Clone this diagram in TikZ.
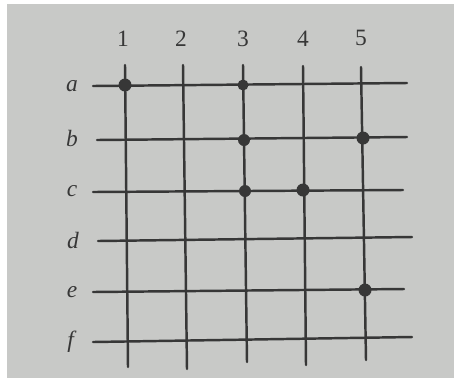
\documentclass[tikz,border=0pt]{standalone}
\usepackage{fontspec}
\setmainfont{Liberation Serif}
\usepackage{tikz}

\definecolor{paper}{RGB}{200,201,199}
\definecolor{ink}{RGB}{55,55,55}

\begin{document}
\begin{tikzpicture}[
				x=0.03cm,
				y=-0.03cm,
				line cap=round,
				line join=round,
				every node/.style={font=\fontsize{20}{23}\selectfont, text=ink},
				grid/.style={draw=ink, line width=2.1pt},
				hit/.style={fill=ink}
				]
				% Paper
				\useasboundingbox (0,0) rectangle (454,379);
				\fill[white] (0,0) rectangle (454,379);
				\fill[paper] (7,4) rectangle (454,378);
				
				% Vertical lines
				\draw[grid] (125,65) -- (128,367);
				\draw[grid] (183,65) -- (187,369);
				\draw[grid] (243,65) -- (247,362);
				\draw[grid] (303,66) -- (306,365);
				\draw[grid] (361,67) -- (366,360);
				
				% Horizontal lines
				\draw[grid] (93,86) -- (407,83);
				\draw[grid] (97,140) -- (407,137);
				\draw[grid] (93,192) -- (403,190);
				\draw[grid] (98,241) -- (412,237);
				\draw[grid] (93,292) -- (404,289);
				\draw[grid] (93,342) -- (412,337);
				
				% Column labels
				\node (n1) at (123,39) {1};
				\node (n2) at (181,39) {2};
				\node (n3) at (243,39) {3};
				\node (n4) at (303,39) {4};
				\node (n5) at (361,38) {5};
				
				% Row labels
				\node (ra) at (72,86) {\textit{a}};
				\node (rb) at (72,138) {\textit{b}};
				\node (rc) at (72,191) {\textit{c}};
				\node (rd) at (73,240) {\textit{d}};
				\node (re) at (72,292) {\textit{e}};
				\node (rf) at (72,342) {\textit{f}};
				
				% Dots
				\fill[hit] (125,85) circle (6.5);
				\fill[hit] (243,85) circle (5.5);
				\fill[hit] (244,140) circle (6);
				\fill[hit] (363,138) circle (6.5);
				\fill[hit] (245,191) circle (6);
				\fill[hit] (303,190) circle (6.5);
				\fill[hit] (365,290) circle (6.5);
			\end{tikzpicture}
\end{document}
